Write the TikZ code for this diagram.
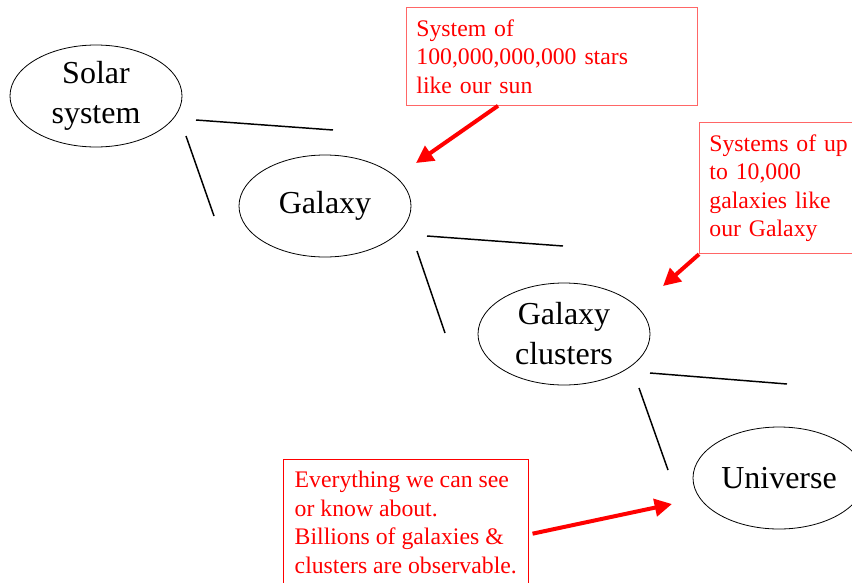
\documentclass[tikz,border=0pt]{standalone}
\usepackage{fontspec}
\setmainfont{Liberation Serif}
\usetikzlibrary{arrows.meta,shapes.geometric}

\begin{document}
\begin{tikzpicture}[x=0.75pt, y=-0.75pt]
	\tikzstyle{body}=[ellipse, draw=black, line width=0.6pt, minimum width=129pt, minimum height=76.5pt, inner sep=0pt, align=center, font=\fontsize{24}{30}\selectfont]
	\tikzstyle{note}=[rectangle, draw=red!60, line width=0.6pt, text=red, anchor=north west, align=left, inner xsep=7.5pt, inner ysep=9pt, font=\fontsize{17.8}{21.4}\selectfont]
	\tikzstyle{link}=[line width=1.1pt]
	\tikzstyle{point}=[-{Triangle[length=13pt, width=13pt]}, red, line width=3pt]
	\useasboundingbox (0,0) rectangle (852,582);
	\clip (0,0) rectangle (852,582);
	\node[body] (solar) at (96,96) {Solar\\system};
	\node[body] (galaxy) at (325,206) {Galaxy};
	\node[body] (clusters) at (564,334) {Galaxy\\clusters};
	\node[body] (universe) at (779,478) {Universe};
	%\node[body] (supercl) at (1000,600) {};
	\node[note, text width=203.25pt] (stars) at (406,7) {System of\\100,000,000,000 stars\\like our sun};
	\node[note, text width=112pt] (groups) at (699,122) {Systems of up\\to 10,000\\galaxies like\\our Galaxy};
	\node[note, draw=red, inner xsep=8.5pt] (seen) at (283,459) {Everything we can see\\or know about.\\Billions of galaxies \&\\clusters are observable.};
	\coordinate (galaxytip) at (416,163);
	\coordinate (clustertip) at (663,286);
	\coordinate (universetip) at (672,504);
	\foreach \xa/\ya/\xb/\yb in {196/120/333/130, 186/136/214/216, 427/236/563/246, 417/251/445/333, 650/373/787/384, 639/388/668/470}
		\draw[link] (\xa,\ya) -- (\xb,\yb);
	\draw[point] ([xshift=69pt]stars.south west) -- (galaxytip);
	\draw[point] (groups.south west) -- (clustertip);
	\draw[point] ([shift={(3pt,-56pt)}]seen.north east) -- (universetip);
\end{tikzpicture}
\end{document}
